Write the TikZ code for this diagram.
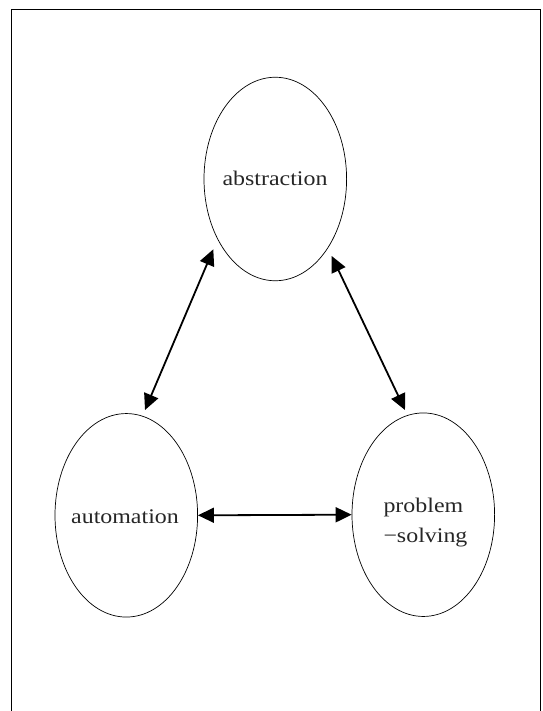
\documentclass[tikz,border=0pt]{standalone}
\usepackage{fontspec}
\setmainfont{Liberation Serif}[FakeStretch=1.15]
\usetikzlibrary{arrows.meta,shapes.geometric,calc}
\tikzset{
  bubble/.style={draw=black, line width=0.7pt, ellipse, inner sep=0pt,
    minimum width=142.6pt, minimum height=203.5pt},
  lbl/.style={inner sep=0pt, text=black!85, font=\fontsize{20.8}{30}\selectfont},
  link/.style={line width=1.8pt, {Triangle[length=16pt,width=15pt]}-{Triangle[length=16pt,width=15pt]}},
}
\begin{document}
\begin{tikzpicture}[x=1pt,y=-1pt]
\useasboundingbox (0,0) rectangle (542,711);
\coordinate (bl) at (11.7,711);
\coordinate (tl) at (11.7,9.5);
\coordinate (tr) at (540.3,9.5);
\coordinate (br) at (540.3,711);
\draw[line width=1pt] (bl) -- (tl) -- (tr) -- (br);

\node[bubble] (abs) at (275.3,179) {};
\node[bubble] (aut) at (126.3,515.3) {};
\node[bubble] (ps) at (423.3,514.7) {};

\node[lbl, anchor=base] (tabs) at (275,186) {abstraction};
\node[lbl, anchor=base] (taut) at (125,523.3) {automation};
\node[lbl, anchor=base west] (tps1) at (383.3,512.7) {problem};
\node[lbl, anchor=base west] (tps2) at (383.3,542.7) {−solving};

\coordinate (a1) at ($(abs.center)+(-62,70.3)$);
\coordinate (b1) at ($(aut.center)+(18.7,-105.3)$);
\coordinate (a2) at ($(abs.center)+(56.4,77)$);
\coordinate (c2) at ($(ps.center)+(-18.3,-104.7)$);

\draw[link] (a1) -- (b1);
\draw[link] (a2) -- (c2);
\draw[link] (aut.east) -- (ps.west);
\end{tikzpicture}
\end{document}
